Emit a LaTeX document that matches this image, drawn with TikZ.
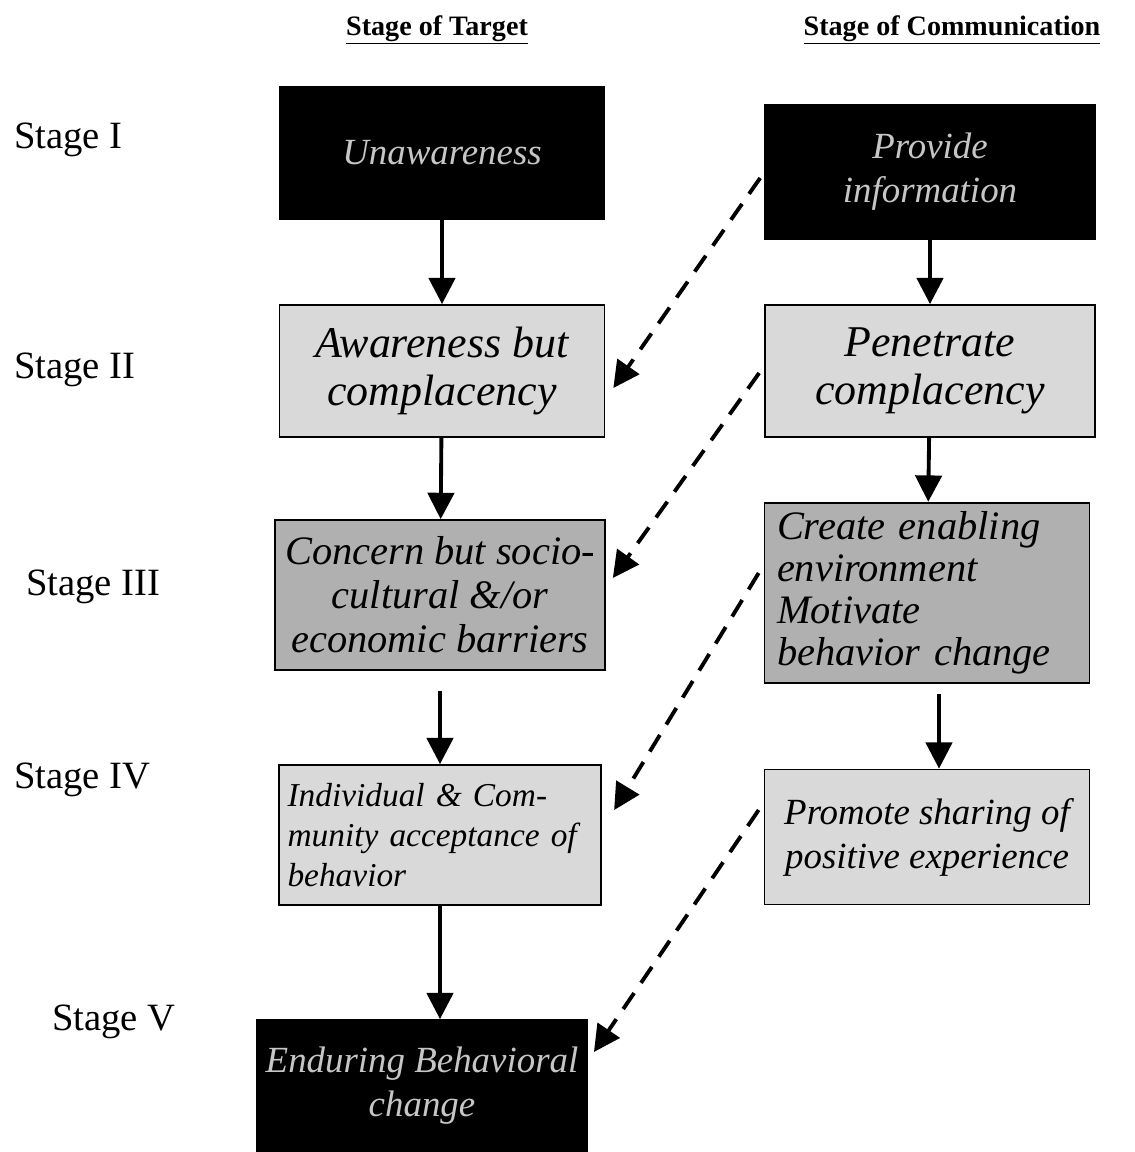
\documentclass[tikz,border=0pt]{standalone}
\usepackage{fontspec}
\setmainfont{Liberation Serif}
\usetikzlibrary{arrows.meta, calc, positioning}

\tikzset{
  box/.style={draw=black, line width=1pt, minimum width=6.5cm, minimum height=2.64cm, inner sep=5pt, font=\itshape\fontsize{25}{27}\selectfont, align=center},
  lightbox/.style={box, fill=gray!30},
  darkbox/.style={box, fill=gray!62},
  blackbox/.style={box, fill=black, text=gray!45, font=\itshape\fontsize{21}{25}\selectfont},
  stagelbl/.style={anchor=west, font=\fontsize{22}{26}\selectfont},
  colhead/.style={font=\bfseries\fontsize{16}{19}\selectfont},
  flow/.style={-{Triangle[length=15pt,width=15pt]}, line width=2.2pt},
  link/.style={-{Triangle[length=15pt,width=15pt]}, line width=2.2pt, dash pattern=on 11pt off 7pt},
}

\begin{document}
\begin{tikzpicture}[x=0.02cm, y=-0.02cm]
\useasboundingbox (0,0) rectangle (1135,1152);
% column headings
\node[colhead] (hT) at (437,30) {\underline{Stage of Target}};
\node[colhead] (hC) at (952,30) {\underline{Stage of Communication}};
% stage labels
\node[stagelbl] (s1) at (8,140) {Stage I};
\node[stagelbl] (s2) at (8,370) {Stage II};
\node[stagelbl] (s3) at (20,587) {Stage III};
\node[stagelbl] (s4) at (8,780) {Stage IV};
\node[stagelbl] (s5) at (46,1022) {Stage V};
% target column
\node[blackbox] (L1) at (442,153) {Unawareness};
\node[lightbox] (L2) at (442,371) {Awareness but\\complacency};
\node[darkbox, minimum width=6.6cm, minimum height=3cm, font=\itshape\fontsize{23}{25}\selectfont] (L3) at (440,595) {Concern but socio-\\cultural \&/or\\economic barriers};
\node[lightbox, minimum width=6.4cm, minimum height=2.8cm, align=left, text width=6.1cm, font=\itshape\fontsize{19}{23}\selectfont] (L4) at (440,835) {Individual \& Com-\\munity acceptance of\\behavior};
\node[blackbox] (L5) at (422,1086) {Enduring Behavioral\\change};
% communication column
\node[blackbox, minimum width=6.6cm, minimum height=2.7cm] (R1) at (930,172) {Provide\\information};
\node[lightbox, minimum width=6.6cm] (R2) at (930,371) {Penetrate\\complacency};
\node[darkbox, minimum height=3.46cm, align=left, text width=6cm, font=\itshape\fontsize{23}{24}\selectfont] (R3) at (927,593) {Create enabling\\environment\\Motivate\\behavior change};
\node[lightbox, minimum height=2.7cm, font=\itshape\fontsize{21}{25}\selectfont] (R4) at (927,837) {Promote sharing of\\positive experience};
% solid arrows down each column
\coordinate (a3) at ($(L3.south)+(0,20)$);
\coordinate (b3) at ($(R3.south)+(12,10)$);
\draw[flow] (L1) -- (L2);
\draw[flow] (L2) -- (L3);
\draw[flow] (a3) -- (a3 |- L4.north);
\draw[flow] (L4.south) -- (L4.south |- L5.north);
\draw[flow] (R1) -- (R2);
\draw[flow] (R2) -- (R3);
\draw[flow] (b3) -- (b3 |- R4.north);
% dashed links across
\draw[link] ($(R1.west)+(-4,6)$) -- ($(L2.east)+(8,17)$);
\draw[link] ($(R2.west)+(-5,2)$) -- ($(L3.east)+(7,-17)$);
\draw[link] ($(R3.west)+(-5,-20)$) -- ($(L4.east)+(12,-25)$);
\draw[link] ($(R4.west)+(-5,-27)$) -- ($(L5.east)+(6,-34)$);
\end{tikzpicture}
\end{document}
